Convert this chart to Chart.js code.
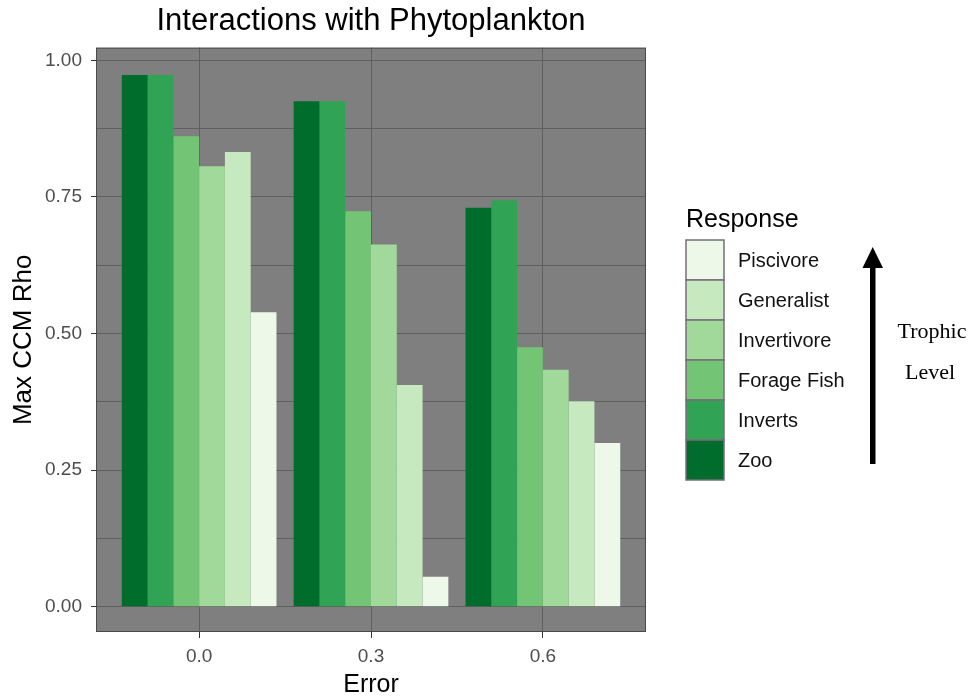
<!DOCTYPE html>
<html>
<head>
<meta charset="utf-8">
<script src="https://cdn.jsdelivr.net/npm/chart.js@4.4.1/dist/chart.umd.min.js"></script>
<style>
  html, body { margin: 0; padding: 0; background: #ffffff; }
</style>
</head>
<body>
<canvas id="chart-canvas" width="971" height="698"></canvas>
<script>
// error levels on the x axis
const ERRORS = ["0.0", "0.3", "0.6"];

// response groups, lowest trophic level first
const RESPONSES = ["Zoo", "Inverts", "Forage Fish", "Invertivore", "Generalist", "Piscivore"];
const COLORS = ["#006d2c", "#31a354", "#74c476", "#a1d99b", "#c7e9c0", "#edf8e9"];

// max CCM rho per error level
const zoo         = [0.973, 0.925, 0.730];
const inverts     = [0.973, 0.925, 0.744];
const forageFish  = [0.861, 0.724, 0.475];
const invertivore = [0.806, 0.663, 0.434];
const generalist  = [0.832, 0.406, 0.376];
const piscivore   = [0.539, 0.055, 0.300];
const SERIES = [zoo, inverts, forageFish, invertivore, generalist, piscivore];

// y axis: labelled breaks plus the minor lines between them
const Y_BREAKS = [0, 0.25, 0.5, 0.75, 1];
const Y_MINOR = [0.125, 0.375, 0.625, 0.875];

const FONT = "'Liberation Sans', Arial, sans-serif";
const SERIF = "'Liberation Serif', 'Times New Roman', serif";
const GRID = "#5f5f5f";

function isMajor(v) {
    return Y_BREAKS.some((b) => Math.abs(b - v) < 1e-9);
}

// grey panel, its border and the hand-made legend on the right
const panel = {
    id: "panel",
    beforeDraw(chart) {
        const {ctx, chartArea: a} = chart;
        ctx.save();
        ctx.fillStyle = "#7f7f7f";
        ctx.fillRect(a.left, a.top, a.right - a.left, a.bottom - a.top);
        ctx.restore();
    },
    afterDatasetsDraw(chart) {
        const {ctx, chartArea: a} = chart;
        ctx.save();
        ctx.strokeStyle = "#4a4a4a";
        ctx.lineWidth = 1;
        ctx.strokeRect(a.left + 0.5, a.top + 0.5, a.right - a.left - 1, a.bottom - a.top - 1);
        ctx.restore();
    },
    afterDraw(chart) {
        const ctx = chart.ctx;
        const x = 686, top = 240, w = 38, h = 40;

        ctx.save();
        ctx.fillStyle = "#000";
        ctx.font = "25px " + FONT;
        ctx.textAlign = "left";
        ctx.textBaseline = "alphabetic";
        ctx.fillText("Response", x, 227);

        const sets = chart.data.datasets.slice().reverse();
        sets.forEach((ds, i) => {
            const y = top + i * h;
            ctx.fillStyle = ds.backgroundColor;
            ctx.fillRect(x, y, w, h);
            ctx.strokeStyle = "#7a6c7a";
            ctx.lineWidth = 1.5;
            ctx.strokeRect(x, y, w, h);
            ctx.fillStyle = "#111";
            ctx.font = "20px " + FONT;
            ctx.textBaseline = "middle";
            ctx.fillText(ds.label, 738, y + h / 2 + 1);
        });

        // trophic level arrow
        ctx.fillStyle = "#000";
        ctx.fillRect(870, 266, 5.5, 198);
        ctx.beginPath();
        ctx.moveTo(872.7, 247);
        ctx.lineTo(883, 268);
        ctx.lineTo(862.5, 268);
        ctx.closePath();
        ctx.fill();

        ctx.font = "22px " + SERIF;
        ctx.textAlign = "center";
        ctx.textBaseline = "alphabetic";
        ctx.fillText("Trophic", 932, 338);
        ctx.fillText("Level", 930, 379);
        ctx.restore();
    }
};

const context = document.getElementById("chart-canvas").getContext("2d");

const chart = new Chart(context, {
    type: "bar",
    data: {
        datasets: RESPONSES.map((name, i) => ({
            label: name,
            data: SERIES[i].map((v, j) => ({x: j + 1, y: v})),
            backgroundColor: COLORS[i],
            borderWidth: 0
        }))
    },
    options: {
        responsive: false,
        animation: false,
        events: [],
        layout: {padding: {left: 0, right: 325, top: 0, bottom: 0}},
        datasets: {bar: {categoryPercentage: 0.9, barPercentage: 1}},
        plugins: {
            legend: {display: false},
            tooltip: {enabled: false},
            title: {
                display: true,
                fullSize: false,
                text: "Interactions with Phytoplankton",
                color: "#000",
                font: {family: FONT, size: 31, weight: "normal", lineHeight: 1.2},
                padding: {top: 3, bottom: 7.5}
            }
        },
        scales: {
            x: {
                type: "linear",
                min: 0.4,
                max: 3.6,
                bounds: "data",
                offset: false,
                grid: {offset: false, color: GRID, lineWidth: 1, tickColor: "#333", tickLength: 6},
                border: {display: false},
                afterBuildTicks: (scale) => {
                    scale.ticks = ERRORS.map((_, i) => ({value: i + 1}));
                },
                ticks: {
                    callback: (value, index) => ERRORS[index],
                    color: "#4d4d4d",
                    font: {family: FONT, size: 19},
                    padding: 7,
                    maxRotation: 0,
                    autoSkip: false
                },
                title: {
                    display: true,
                    text: "Error",
                    color: "#000",
                    font: {family: FONT, size: 25, lineHeight: 1},
                    padding: 0
                },
                afterFit: (scale) => { scale.height = 66; }
            },
            y: {
                type: "linear",
                min: -0.046,
                max: 1.023,
                bounds: "data",
                grid: {
                    color: GRID,
                    lineWidth: 1,
                    tickLength: 5,
                    tickColor: (c) => isMajor(c.tick.value) ? "#333" : "rgba(0,0,0,0)"
                },
                border: {display: false},
                afterBuildTicks: (scale) => {
                    scale.ticks = Y_BREAKS.concat(Y_MINOR).sort((a, b) => a - b).map((v) => ({value: v}));
                },
                ticks: {
                    callback: (value) => isMajor(value) ? value.toFixed(2) : "",
                    color: "#4d4d4d",
                    font: {family: FONT, size: 19},
                    padding: 9,
                    autoSkip: false
                },
                title: {
                    display: true,
                    text: "Max CCM Rho",
                    color: "#000",
                    font: {family: FONT, size: 26, lineHeight: 1},
                    padding: {top: 11, bottom: 0}
                },
                afterFit: (scale) => { scale.width = 96; }
            }
        }
    },
    plugins: [panel]
});
</script>
</body>
</html>
